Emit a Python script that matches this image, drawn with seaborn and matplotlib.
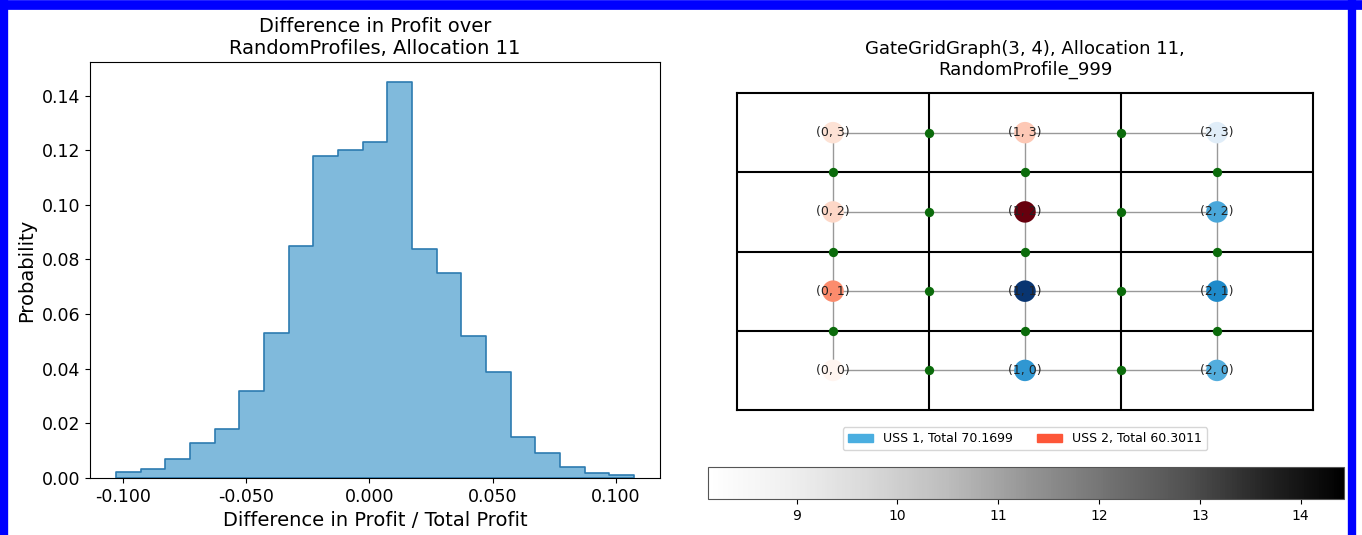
import numpy as np
import pandas as pd
import matplotlib
matplotlib.use('Agg')
import matplotlib.pyplot as plt
import seaborn as sns
from matplotlib.colors import LinearSegmentedColormap, Normalize
from matplotlib.patches import Patch
from matplotlib.lines import Line2D
from matplotlib.cm import ScalarMappable

# Histograma: bordes de los bins y probabilidad de cada bin
bin_edges = list(np.linspace(-0.1027, 0.1074, 22))
bin_probs = [0.0021, 0.0032, 0.0070, 0.0129, 0.0180, 0.0320, 0.0530, 0.0851,
             0.1180, 0.1202, 0.1233, 0.1452, 0.0840, 0.0751, 0.0520, 0.0390,
             0.0150, 0.0090, 0.0040, 0.0020, 0.0011]
bin_centers = [(a + b) / 2 for a, b in zip(bin_edges[:-1], bin_edges[1:])]

# Grafo de rejilla 3x4: nodos, propietario (USS) y valor
grid_cols, grid_rows = 3, 4
node_x = [0, 0, 0, 0, 1, 1, 1, 1, 2, 2, 2, 2]
node_y = [0, 1, 2, 3, 0, 1, 2, 3, 0, 1, 2, 3]
node_owner = [2, 2, 2, 2, 1, 1, 2, 2, 1, 1, 1, 1]
node_value = [8.12, 10.17, 9.20, 9.00, 12.00, 14.30, 14.43, 9.40, 11.30, 12.40, 11.50, 8.70]
uss_labels = ['USS 1, Total 70.1699', 'USS 2, Total 60.3011']
uss_colors = ['#4aaee0', '#fd5638']

blue_cmap = LinearSegmentedColormap.from_list(
    'uss1', [(0, '#f7fbff'), (0.1, '#deebf7'), (0.5, '#55aede'), (0.67, '#1f8ccc'), (1, '#08306b')])
red_cmap = LinearSegmentedColormap.from_list(
    'uss2', [(0, '#fff5f0'), (0.15, '#fde0d2'), (0.33, '#fc8a6a'), (1, '#67000d')])

fig = plt.figure(figsize=(13.62, 5.35), dpi=100)

# --- Histograma ---
hist_df = pd.DataFrame({'x': bin_centers, 'p': bin_probs})
ax1 = fig.add_axes([0.0661, 0.1065, 0.4185, 0.7776])
sns.histplot(data=hist_df, x='x', weights='p', bins=bin_edges, stat='probability',
             element='step', facecolor='#80badc', edgecolor='#2d7bb0', linewidth=1.2,
             ax=ax1)
ax1.set_title('Difference in Profit over\nRandomProfiles, Allocation 11', fontsize=14)
ax1.set_xlabel('Difference in Profit / Total Profit', fontsize=14)
ax1.set_ylabel('Probability', fontsize=14)
ax1.set_xticks([-0.1, -0.05, 0.0, 0.05, 0.1])
ax1.xaxis.set_major_formatter(matplotlib.ticker.FormatStrFormatter('%.3f'))
ax1.set_yticks(np.arange(0, 0.141, 0.02))
ax1.yaxis.set_major_formatter(matplotlib.ticker.FormatStrFormatter('%.2f'))
ax1.tick_params(labelsize=12.5)

# --- Grafo ---
ax2 = fig.add_axes([0.5411, 0.2336, 0.4229, 0.5925])
ax2.set_xlim(-0.5, grid_cols - 0.5)
ax2.set_ylim(-0.5, grid_rows - 0.5)
ax2.set_xticks([])
ax2.set_yticks([])
for s in ax2.spines.values():
    s.set_linewidth(1.5)
for c in range(grid_cols - 1):
    ax2.axvline(c + 0.5, color='black', lw=1.5, zorder=1)
for r in range(grid_rows - 1):
    ax2.axhline(r + 0.5, color='black', lw=1.5, zorder=1)

# aristas
for r in range(grid_rows):
    ax2.plot([0, grid_cols - 1], [r, r], color='#999999', lw=1, zorder=2)
for c in range(grid_cols):
    ax2.plot([c, c], [0, grid_rows - 1], color='#999999', lw=1, zorder=2)

# puertas (gates)
gate_x = [c + 0.5 for c in range(grid_cols - 1) for r in range(grid_rows)] + \
         [c for c in range(grid_cols) for r in range(grid_rows - 1)]
gate_y = [r for c in range(grid_cols - 1) for r in range(grid_rows)] + \
         [r + 0.5 for c in range(grid_cols) for r in range(grid_rows - 1)]
sns.scatterplot(x=gate_x, y=gate_y, color='#0b6b0b', s=45, linewidth=0, zorder=3, ax=ax2)

# nodos
vmin, vmax = min(node_value), max(node_value)
for owner, cmap in [(1, blue_cmap), (2, red_cmap)]:
    idx = [i for i, o in enumerate(node_owner) if o == owner]
    sns.scatterplot(x=[node_x[i] for i in idx], y=[node_y[i] for i in idx],
                    hue=[node_value[i] for i in idx], palette=cmap, hue_norm=(vmin, vmax),
                    s=240, linewidth=0, legend=False, zorder=4, ax=ax2)
for x, y in zip(node_x, node_y):
    ax2.text(x, y, f'({x}, {y})', ha='center', va='center', fontsize=9,
             color='#222222', zorder=5)

ax2.set_title('GateGridGraph(3, 4), Allocation 11,\nRandomProfile_999', fontsize=13, pad=13)
handles = [Patch(color=c, label=l) for c, l in zip(uss_colors, uss_labels)]
ax2.legend(handles=handles, loc='upper center', bbox_to_anchor=(0.5, -0.035),
           ncol=2, fontsize=9)

# barra de color
cax = fig.add_axes([0.5198, 0.0673, 0.4670, 0.0598])
cb = fig.colorbar(ScalarMappable(norm=Normalize(vmin, vmax), cmap='Greys'),
                  cax=cax, orientation='horizontal')
cb.ax.tick_params(labelsize=10)
cb.outline.set_edgecolor('#555555')

# marco azul de la captura
W, H = 1362, 535
fig.lines.append(Line2D([4 / W, 4 / W], [0, 1], transform=fig.transFigure, color='#0000ff', lw=6))
fig.lines.append(Line2D([0, 1], [1 - 5 / H, 1 - 5 / H], transform=fig.transFigure, color='#0000ff', lw=7))
fig.lines.append(Line2D([1352 / W, 1352 / W], [0, 1], transform=fig.transFigure, color='#0000ff', lw=6))

fig.savefig('out.png', dpi=100)
